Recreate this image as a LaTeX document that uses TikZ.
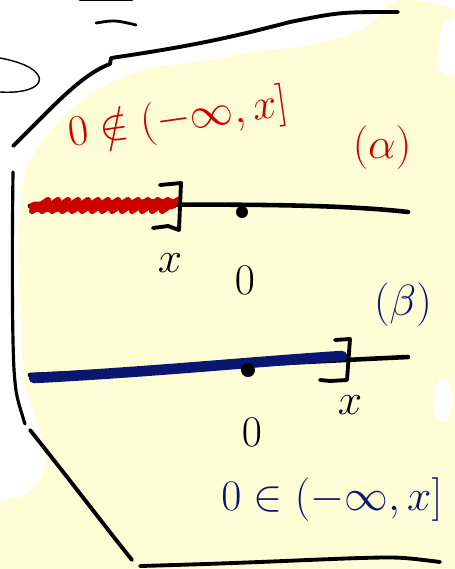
\documentclass[tikz,border=0pt]{standalone}
\usetikzlibrary{positioning}

\definecolor{padyellow}{HTML}{FFFDD6}
\definecolor{inkred}{HTML}{CC0000}
\definecolor{inkblue}{HTML}{0B1670}

\tikzset{
	ink/.style={line width=2.2pt, line cap=round, line join=round},
	bigtext/.style={font=\fontsize{30}{30}\selectfont, inner sep=0pt}
}

\begin{document}
\begin{tikzpicture}[x=0.02cm, y=-0.02cm]

		\useasboundingbox (0,0) rectangle (455,569);

		% --- Highlight Background ---
		\fill[padyellow] plot[smooth cycle, tension=0.5] coordinates {
			(398,0) (365,28) (310,45) (255,52) (200,62) (150,68) (100,88)
			(60,120) (28,165) (18,230) (20,300) (24,380) (38,425) (45,470)
			(25,495) (0,505) (0,569) (455,569) (455,90) (438,75) (442,30) (455,10)
		};
		\fill[padyellow] (0,505) rectangle (455,569);
		\fill[white] (448,48) ellipse (9 and 28);
		\fill[white] (443,400) ellipse (10 and 22);

		% --- Frame Strokes ---
		\draw[ink, line width=1.6pt] (80,0) -- (132,0);
		\draw[ink, line width=1.6pt] (96,23) .. controls (115,20) .. (136,25);
		\draw[line width=0.8pt] (0,58) .. controls (55,68) and (50,95) .. (0,92);
		\draw[ink] (13,146) .. controls (50,110) and (80,75) .. (110,64) -- (111,58)
			.. controls (200,45) and (240,35) .. (290,22) .. controls (340,12) .. (398,12);
		\draw[ink, line width=1.8pt] (13,172) .. controls (12,250) and (12,330) .. (14,370)
			.. controls (16,395) .. (25,424);
		\draw[ink] (30,430) .. controls (70,480) and (100,520) .. (132,560);
		\draw[ink] (140,566) .. controls (250,563) and (300,560) .. (360,558)
			.. controls (400,557) .. (440,562);

		% --- (a) Line ---
		\draw[ink, line width=2.6pt] (30,206) .. controls (200,204) and (330,203) .. (408,212);
		\foreach \s in {0,...,13} {
			\draw[inkred, line width=3.5pt, line cap=round]
				(32+10*\s,211) -- (48+10*\s,200);
		}
		\draw[inkred, line width=6pt, line cap=round] (34,207) -- (172,204);
		\draw[ink] (160,185) -- (181,183) -- (179,230) -- (168,226) -- (153,228);
		\fill (242,212) circle (6);
		\node[bigtext] (xa) at (170,263) {$x$};
		\node[bigtext] (za) at (245,280) {$0$};
		\node[bigtext, text=inkred, rotate=8] (seta) at (178,120) {$0\notin(-\infty,x]$};
		\node[bigtext, text=inkred] (laba) at (382,148) {$(\alpha)$};

		% --- (b) Line ---
		\draw[ink, line width=2.6pt] (30,375) .. controls (150,370) and (300,362) .. (408,357);
		\draw[inkblue, line width=6pt, line cap=round] (34,378) .. controls (150,372) and (250,362) .. (342,356);
		\fill (248,370) circle (7);
		\draw[ink] (335,340) -- (350,339) -- (347,380) -- (330,381) -- (320,380);
		\node[bigtext] (xb) at (350,405) {$x$};
		\node[bigtext] (zb) at (252,432) {$0$};
		\node[bigtext, text=inkblue] (setb) at (332,500) {$0\in(-\infty,x]$};
		\node[bigtext, text=inkblue] (labb) at (403,305) {$(\beta)$};

	\end{tikzpicture}
\end{document}
